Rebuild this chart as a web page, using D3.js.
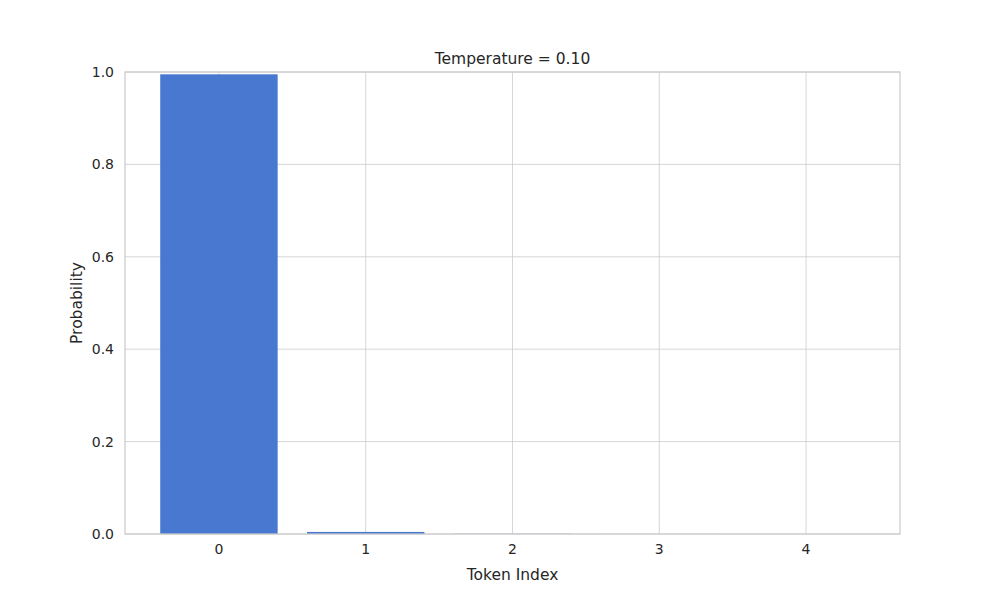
<!DOCTYPE html>
<html><head><meta charset="utf-8">
<script src="https://cdn.jsdelivr.net/npm/d3@7"></script>
<style>body{margin:0;background:#fff}text{font-family:"DejaVu Sans",sans-serif;fill:#262626}</style>
</head><body><svg id="c" width="1000" height="600"></svg>
<script>
const tokens = [0, 1, 2, 3, 4];
const probs = [0.9950, 0.0045, 0.0004, 0.00004, 0.000003];
const yTicks = [0, 0.2, 0.4, 0.6, 0.8, 1.0];
const title = "Temperature = 0.10";

const svg = d3.select("#c");
const L = 125, R = 900, T = 72, B = 534;
const x = d3.scaleLinear().domain([-0.64, 4.64]).range([L, R]);
const y = d3.scaleLinear().domain([0, 1]).range([B, T]);
const bw = x(0.8) - x(0);

const g = svg.append("g");
g.selectAll(".gx").data(tokens).enter().append("line")
  .attr("x1", d => x(d)).attr("x2", d => x(d)).attr("y1", T).attr("y2", B)
  .attr("stroke", "#cccccc").attr("stroke-width", 0.8);
g.selectAll(".gy").data(yTicks).enter().append("line")
  .attr("x1", L).attr("x2", R).attr("y1", d => y(d)).attr("y2", d => y(d))
  .attr("stroke", "#cccccc").attr("stroke-width", 0.8);

g.selectAll(".bar").data(probs).enter().append("rect")
  .attr("x", (d, i) => x(tokens[i]) - bw / 2).attr("width", bw)
  .attr("y", d => y(d)).attr("height", d => B - y(d))
  .attr("fill", "#4878cf");

g.append("rect").attr("x", L).attr("y", T).attr("width", R - L).attr("height", B - T)
  .attr("fill", "none").attr("stroke", "#cccccc").attr("stroke-width", 1.25);

g.selectAll(".xl").data(tokens).enter().append("text")
  .attr("x", d => x(d)).attr("y", B + 20).attr("text-anchor", "middle")
  .attr("font-size", 14).text(d => d);
g.selectAll(".yl").data(yTicks).enter().append("text")
  .attr("x", L - 11).attr("y", d => y(d) + 5).attr("text-anchor", "end")
  .attr("font-size", 14).text(d => d.toFixed(1));

svg.append("text").attr("x", (L + R) / 2).attr("y", 64).attr("text-anchor", "middle")
  .attr("font-size", 15.5).text(title);
svg.append("text").attr("x", (L + R) / 2).attr("y", 580).attr("text-anchor", "middle")
  .attr("font-size", 15.5).text("Token Index");
svg.append("text").attr("transform", `translate(82,${(T + B) / 2}) rotate(-90)`)
  .attr("text-anchor", "middle").attr("font-size", 15.5).text("Probability");
</script></body></html>
